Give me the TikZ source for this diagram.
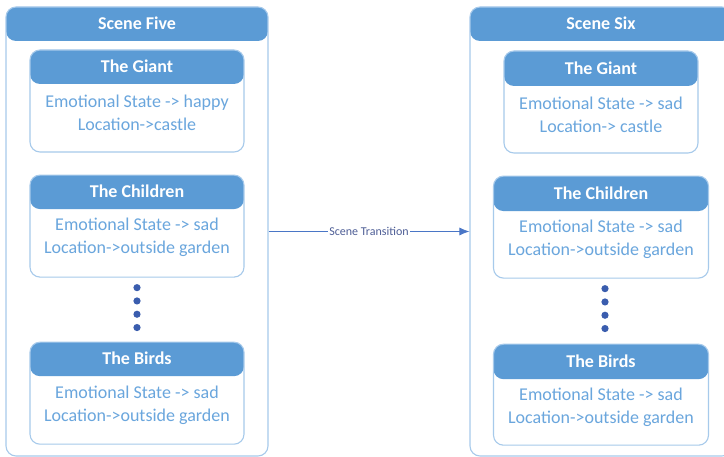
\documentclass[tikz,border=0pt]{standalone}
\usepackage{fontspec}
\setmainfont{Carlito}
\usetikzlibrary{arrows.meta, positioning}

\definecolor{hdrblue}{HTML}{5B9BD5}
\definecolor{lineblue}{HTML}{A7CAEB}
\definecolor{txtblue}{HTML}{6AA6DD}
\definecolor{dotblue}{HTML}{3A5DAE}
\definecolor{arrblue}{HTML}{4A76C6}
\definecolor{lblblue}{HTML}{4E5E96}

\begin{document}
\begin{tikzpicture}[x=1pt, y=-1pt, >={Latex[length=10pt, width=8pt]},
  box/.style={draw=lineblue, line width=1.1pt, rounded corners=10pt, fill=white,
    inner sep=0pt, minimum height=102pt,
    path picture={\fill[hdrblue] (path picture bounding box.north west)
      rectangle ([yshift=-#1]path picture bounding box.north east);}},
  box/.default=34pt,
  head/.style={text=white, font=\fontsize{18}{22}\selectfont\bfseries},
  body/.style={text=txtblue, align=center, font=\fontsize{18}{23}\selectfont}]
  \useasboundingbox (0,0) rectangle (724,457);

  % scene five
  \node[box, minimum width=262pt, minimum height=449pt] (scene5) at (137,231.5) {};
  \node[head] at ([yshift=-17pt]scene5.north) {Scene Five};

  \node[box, minimum width=214pt, below=43pt of scene5.north] (giant5) {};
  \node[head] at ([yshift=-17pt]giant5.north) {The Giant};
  \node[body] at ([yshift=-63pt]giant5.north) {Emotional State -> happy\\Location->castle};

  \node[box, minimum width=214pt, below=22pt of giant5] (children5) {};
  \node[head] at ([yshift=-17pt]children5.north) {The Children};
  \node[body] at ([yshift=-63pt]children5.north) {Emotional State -> sad\\Location->outside garden};

  \node[box, minimum width=214pt, below=64pt of children5] (birds5) {};
  \node[head] at ([yshift=-17pt]birds5.north) {The Birds};
  \node[body] at ([yshift=-64pt]birds5.north) {Emotional State -> sad\\Location->outside garden};

  % scene six
  \node[box, minimum width=262pt, minimum height=449pt] (scene6) at (601,231.5) {};
  \node[head] at ([yshift=-17pt]scene6.north) {Scene Six};

  \node[box=35pt, minimum width=194pt, below=44pt of scene6.north] (giant6) {};
  \node[head] at ([yshift=-17.5pt]giant6.north) {The Giant};
  \node[body] at ([yshift=-64pt]giant6.north) {Emotional State -> sad\\Location-> castle};

  \node[box=35pt, minimum width=215pt, below=22pt of giant6] (children6) {};
  \node[head] at ([yshift=-17.5pt]children6.north) {The Children};
  \node[body] at ([yshift=-64pt]children6.north) {Emotional State -> sad\\Location->outside garden};

  \node[box=35pt, minimum width=215pt, minimum height=101pt, below=65pt of children6] (birds6) {};
  \node[head] at ([yshift=-17.5pt]birds6.north) {The Birds};
  \node[body] at ([yshift=-64pt]birds6.north) {Emotional State -> sad\\Location->outside garden};

  \foreach \i in {0,...,3} {
    \fill[dotblue] ([yshift=-10pt-13.3pt*\i]children5.south) circle (3.6pt);
    \fill[dotblue] ([xshift=4pt, yshift=-10pt-13.3pt*\i]children6.south) circle (3.6pt);
  }

  \draw[->, arrblue, line width=0.8pt] (scene5.east) -- (scene6.west)
    node[midway, fill=white, inner sep=1pt, text=lblblue, font=\fontsize{12}{14}\selectfont] {Scene Transition};
\end{tikzpicture}
\end{document}
